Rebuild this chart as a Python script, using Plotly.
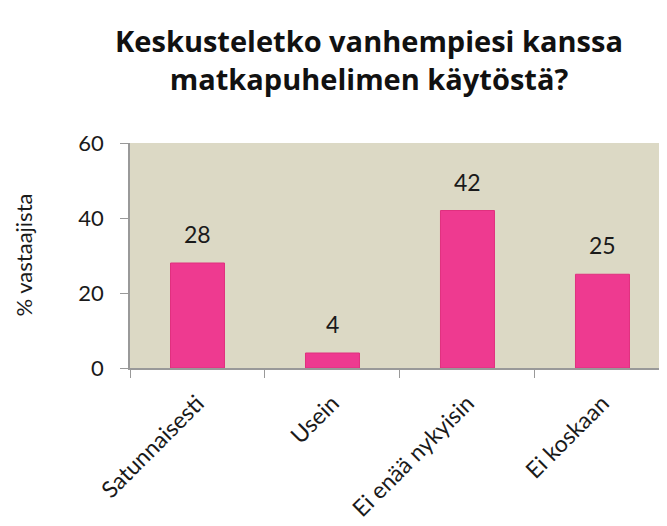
import plotly.graph_objects as go

categories = ["Satunnaisesti", "Usein", "Ei enää nykyisin", "Ei koskaan"]
values = [28, 4, 42, 25]
y_ticks = [0, 20, 40, 60]

# page body has an 8px margin, so the figure is drawn 8px smaller
W, H = 659, 518
L, R, T, B = 122, 0, 135, 158

fig = go.Figure(go.Bar(
    x=categories, y=values, width=0.4,
    marker=dict(color="#EE3A90", line=dict(color="#E0307F", width=1)),
    hoverinfo="x+y",
))

fig.update_layout(
    width=W, height=H,
    margin=dict(l=L, r=R, t=T, b=B),
    paper_bgcolor="white", plot_bgcolor="#DCD9C5",
    font=dict(family="Lato", color="#1a1a1a"),
    showlegend=False,
    title=dict(
        text="<b>Keskusteletko vanhempiesi kanssa<br>matkapuhelimen käytöstä?</b>",
        x=361 / W, xanchor="center", xref="container",
        y=1 - 44 / H, yanchor="middle", yref="container",
        font=dict(size=29, family="Open Sans", color="#111111"),
    ),
    xaxis=dict(
        range=[-0.5, 3.478], tickson="boundaries", ticks="outside", ticklen=8,
        tickcolor="#999999", showline=True, linecolor="#999999", linewidth=1.5,
        tickangle=-45, tickfont=dict(size=23, color="#1a1a1a"),
        showgrid=False, ticklabelstandoff=11, automargin=False,
    ),
    yaxis=dict(
        range=[0, 60], tickvals=y_ticks, ticks="outside", ticklen=8,
        tickcolor="#999999", showline=True, linecolor="#999999", linewidth=1.5,
        tickfont=dict(size=22, color="#1a1a1a"), showgrid=False, zeroline=False,
        ticklabelstandoff=12, automargin=False,
    ),
    annotations=[dict(
        text="% vastaajista", textangle=-90, xref="paper", yref="paper",
        x=-(L - 15) / (W - L - R), xanchor="center", y=0.5, yanchor="middle",
        showarrow=False, font=dict(size=22, color="#1a1a1a"),
    )] + [dict(
        text=str(v), x=c, y=v, xref="x", yref="y", yanchor="bottom",
        yshift=13, showarrow=False, font=dict(size=23, color="#1a1a1a"),
    ) for c, v in zip(categories, values)],
)

fig.write_html("out.html")
